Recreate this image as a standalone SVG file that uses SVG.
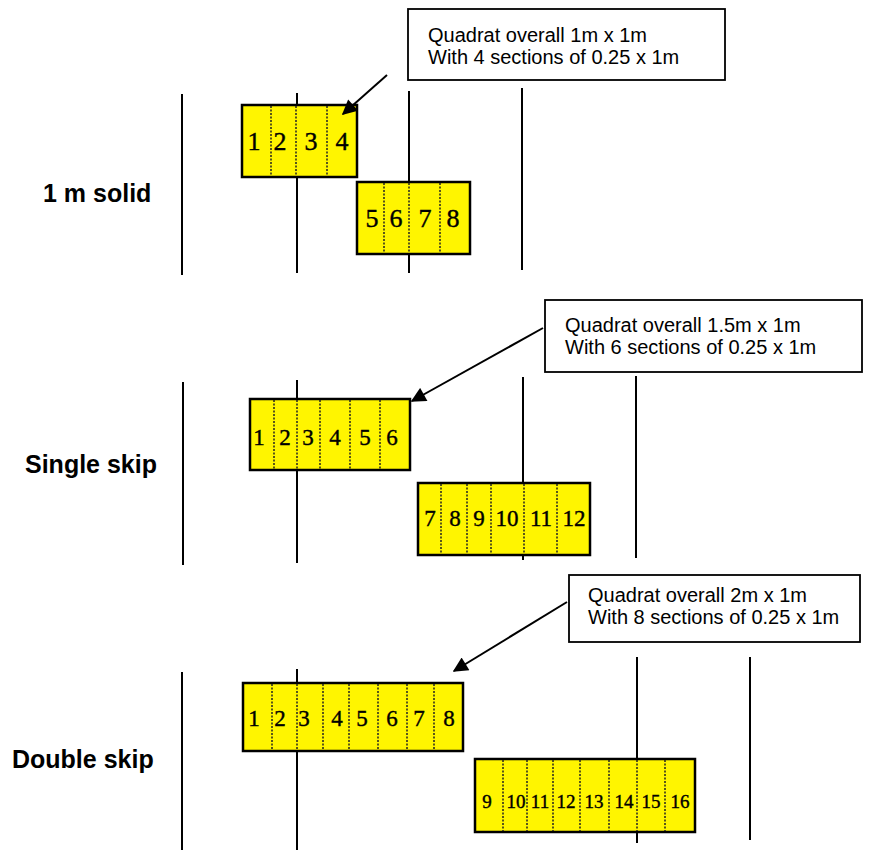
<svg xmlns="http://www.w3.org/2000/svg" width="877" height="850" viewBox="0 0 877 850">
  <style>
    .row { stroke: #000; stroke-width: 2; fill: none; }
    .quad { fill: #FFF500; stroke: #000; stroke-width: 2.5; }
    .div { stroke: #222; stroke-width: 1.5; stroke-dasharray: 2 1.5; fill: none; }
    .num { font-family: "Liberation Serif", "Times New Roman", serif; fill: #000; stroke: #000; stroke-width: 0.4; text-anchor: middle; }
    .n25 { font-size: 26px; }
    .n22 { font-size: 23px; }
    .n19 { font-size: 19px; }
    .label { font-family: "Liberation Sans", Arial, sans-serif; font-weight: bold; font-size: 25px; fill: #000; }
    .box { fill: #fff; stroke: #000; stroke-width: 1.8; }
    .note { font-family: "Liberation Sans", Arial, sans-serif; font-size: 20px; fill: #000; }
    .arrow { stroke: #000; stroke-width: 2; fill: none; marker-end: url(#head); }
  </style>
  <defs>
    <marker id="head" viewBox="0 0 10 10" refX="9" refY="5" markerWidth="8.5" markerHeight="7.5" orient="auto" markerUnits="strokeWidth">
      <path d="M0,0 L10,5 L0,10 z" fill="#000"/>
    </marker>
  </defs>
  <rect width="877" height="850" fill="#fff"/>

  <!-- crop rows -->
  <g id="rows-solid">
    <line class="row" x1="182" y1="94" x2="182" y2="275"/>
    <line class="row" x1="297" y1="93" x2="297" y2="273"/>
    <line class="row" x1="409" y1="91" x2="409" y2="273"/>
    <line class="row" x1="522" y1="88" x2="522" y2="270"/>
  </g>
  <g id="rows-single">
    <line class="row" x1="183" y1="382" x2="183" y2="565"/>
    <line class="row" x1="297" y1="380" x2="297" y2="563"/>
    <line class="row" x1="523" y1="377" x2="523" y2="560"/>
    <line class="row" x1="636" y1="376" x2="636" y2="558"/>
  </g>
  <g id="rows-double">
    <line class="row" x1="182" y1="672" x2="182" y2="850"/>
    <line class="row" x1="297" y1="669" x2="297" y2="850"/>
    <line class="row" x1="637" y1="657" x2="637" y2="843"/>
    <line class="row" x1="750" y1="657" x2="750" y2="840"/>
  </g>

  <!-- row configuration labels -->
  <g id="label-solid"><text class="label" x="43" y="202">1 m solid</text></g>
  <g id="label-single"><text class="label" x="25" y="473">Single skip</text></g>
  <g id="label-double"><text class="label" x="12" y="768">Double skip</text></g>

  <!-- 1 m solid quadrats -->
  <g id="quad-solid-a">
    <rect class="quad" x="242" y="105" width="115" height="72"/>
    <path class="div" d="M271,106V176M296,106V176M327,106V176"/>
    <text class="num n25" y="150"><tspan x="254">1</tspan><tspan x="280">2</tspan><tspan x="311">3</tspan><tspan x="342">4</tspan></text>
  </g>
  <g id="quad-solid-b">
    <rect class="quad" x="357" y="182" width="113" height="72"/>
    <path class="div" d="M384,183V253M409,183V253M440,183V253"/>
    <text class="num n25" y="227"><tspan x="372">5</tspan><tspan x="396">6</tspan><tspan x="425">7</tspan><tspan x="453">8</tspan></text>
  </g>

  <!-- single skip quadrats -->
  <g id="quad-single-a">
    <rect class="quad" x="250" y="399" width="160" height="71"/>
    <path class="div" d="M274,400V469M297,400V469M320,400V469M350,400V469M380,400V469"/>
    <text class="num n22" y="445"><tspan x="259">1</tspan><tspan x="285">2</tspan><tspan x="308">3</tspan><tspan x="335">4</tspan><tspan x="365">5</tspan><tspan x="392">6</tspan></text>
  </g>
  <g id="quad-single-b">
    <rect class="quad" x="418" y="483" width="172" height="72"/>
    <path class="div" d="M441,484V554M467,484V554M491,484V554M524,484V554M557,484V554"/>
    <text class="num n22" y="526"><tspan x="430">7</tspan><tspan x="455">8</tspan><tspan x="479">9</tspan><tspan x="507">10</tspan><tspan x="541">11</tspan><tspan x="574">12</tspan></text>
  </g>

  <!-- double skip quadrats -->
  <g id="quad-double-a">
    <rect class="quad" x="243" y="683" width="220" height="68"/>
    <path class="div" d="M272,684V750M297,684V750M323,684V750M349,684V750M378,684V750M407,684V750M434,684V750"/>
    <text class="num n22" y="726"><tspan x="254">1</tspan><tspan x="280">2</tspan><tspan x="304">3</tspan><tspan x="337">4</tspan><tspan x="362">5</tspan><tspan x="392">6</tspan><tspan x="419">7</tspan><tspan x="449">8</tspan></text>
  </g>
  <g id="quad-double-b">
    <rect class="quad" x="475" y="759" width="220" height="73"/>
    <path class="div" d="M503,760V831M527,760V831M553,760V831M580,760V831M609,760V831M637,760V831M665,760V831"/>
    <text class="num n19" y="808"><tspan x="487">9</tspan><tspan x="516">10</tspan><tspan x="540">11</tspan><tspan x="566">12</tspan><tspan x="594">13</tspan><tspan x="624">14</tspan><tspan x="651">15</tspan><tspan x="680">16</tspan></text>
  </g>

  <!-- callout notes -->
  <g id="note-solid">
    <rect class="box" x="408" y="9" width="317" height="71"/>
    <text class="note" x="428" y="42">Quadrat overall 1m x 1m</text>
    <text class="note" x="428" y="64">With 4 sections of 0.25 x 1m</text>
  </g>
  <g id="note-single">
    <rect class="box" x="545" y="300" width="317" height="72"/>
    <text class="note" x="565" y="332">Quadrat overall 1.5m x 1m</text>
    <text class="note" x="565" y="354">With 6 sections of 0.25 x 1m</text>
  </g>
  <g id="note-double">
    <rect class="box" x="569" y="575" width="291" height="67"/>
    <text class="note" x="588" y="602">Quadrat overall 2m x 1m</text>
    <text class="note" x="588" y="624">With 8 sections of 0.25 x 1m</text>
  </g>

  <!-- pointers from notes to quadrats -->
  <g id="connectors">
    <line class="arrow" x1="387" y1="75" x2="343" y2="114"/>
    <line class="arrow" x1="543" y1="328" x2="412" y2="401"/>
    <line class="arrow" x1="567" y1="602" x2="454" y2="671"/>
  </g>
</svg>
